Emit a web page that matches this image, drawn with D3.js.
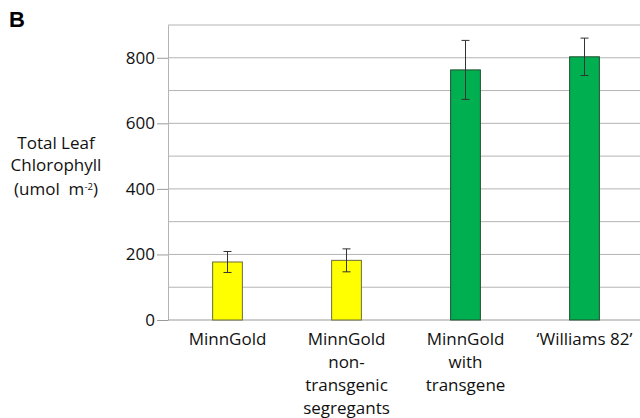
<!DOCTYPE html>
<html>
<head>
<meta charset="utf-8">
<script src="https://cdn.jsdelivr.net/npm/d3@7"></script>
<style>
  body { margin: 0; background: #fff; }
  svg { font-family: "Open Sans", Lato, sans-serif; }
</style>
</head>
<body>
<div id="chart"></div>
<script>
const categories = ["MinnGold", "MinnGold non-transgenic segregants", "MinnGold with transgene", "\u2018Williams 82\u2019"]
const labelLines = [["MinnGold"], ["MinnGold", "non-", "transgenic", "segregants"], ["MinnGold", "with", "transgene"], ["\u2018Williams 82\u2019"]]
const chlorophyll = [177, 182, 763, 803]
const errors = [32, 35, 90, 57]
const barColors = ["#ffff00", "#ffff00", "#00b050", "#00b050"]
const barStrokes = ["#6b6b3a", "#6b6b3a", "#1f4d2e", "#1f4d2e"]
const yTicks = [0, 200, 400, 600, 800]
const gridValues = [100, 200, 300, 400, 500, 600, 700, 800, 900]

const conf = { width: 640, height: 418, left: 168, right: 644, top: 25, bottom: 320 }

let svg = d3.select("#chart").append("svg")
    .attr("width", conf.width)
    .attr("height", conf.height)

let x = d3.scaleBand().domain(categories).range([conf.left, conf.right]).paddingInner(0.75).paddingOuter(0.375)
let y = d3.scaleLinear().domain([0, 900]).range([conf.bottom, conf.top])

// gridlines
svg.append("g").selectAll("line")
    .data(gridValues)
    .join("line")
    .attr("x1", conf.left).attr("x2", conf.right)
    .attr("y1", d => y(d)).attr("y2", d => y(d))
    .attr("stroke", "#b4b4b4").attr("stroke-width", 1)

// y axis
let yAxis = d3.axisLeft(y).tickValues(yTicks).tickSize(11).tickPadding(2).tickSizeOuter(0)
let yg = svg.append("g").attr("transform", "translate(" + conf.left + ",0)").call(yAxis)
yg.select(".domain").attr("stroke", "#b4b4b4")
yg.selectAll(".tick line").attr("stroke", "#9a9a9a")
yg.selectAll(".tick text").attr("font-size", 17).attr("fill", "#111").attr("font-family", "'Open Sans', sans-serif")

// x axis line
svg.append("line")
    .attr("x1", conf.left).attr("x2", conf.right)
    .attr("y1", y(0)).attr("y2", y(0))
    .attr("stroke", "#9a9a9a")

// bars
svg.append("g").selectAll("rect")
    .data(categories)
    .join("rect")
    .attr("x", d => x(d))
    .attr("width", x.bandwidth())
    .attr("y", (d, i) => y(chlorophyll[i]))
    .attr("height", (d, i) => y(0) - y(chlorophyll[i]))
    .attr("fill", (d, i) => barColors[i])
    .attr("stroke", (d, i) => barStrokes[i])
    .attr("stroke-width", 1)

// error bars
let eg = svg.append("g").attr("stroke", "#333").attr("stroke-width", 1)
categories.forEach((c, i) => {
    let cx = x(c) + x.bandwidth() / 2
    let hi = y(chlorophyll[i] + errors[i])
    let lo = y(chlorophyll[i] - errors[i])
    eg.append("line").attr("x1", cx).attr("x2", cx).attr("y1", hi).attr("y2", lo)
    eg.append("line").attr("x1", cx - 4).attr("x2", cx + 4).attr("y1", hi).attr("y2", hi)
    eg.append("line").attr("x1", cx - 4).attr("x2", cx + 4).attr("y1", lo).attr("y2", lo)
})

// x labels
categories.forEach((c, i) => {
    let t = svg.append("text")
        .attr("x", x(c) + x.bandwidth() / 2)
        .attr("y", 345)
        .attr("text-anchor", "middle")
        .attr("font-size", 17)
        .attr("fill", "#111")
    labelLines[i].forEach((line, j) => {
        t.append("tspan").attr("x", x(c) + x.bandwidth() / 2).attr("dy", j === 0 ? 0 : 23).text(line)
    })
})

// y title
let yt = svg.append("text").attr("text-anchor", "middle").attr("font-size", 17).attr("fill", "#111")
yt.append("tspan").attr("x", 56).attr("y", 149).text("Total Leaf")
yt.append("tspan").attr("x", 56).attr("y", 171).text("Chlorophyll")
yt.append("tspan").attr("x", 56).attr("y", 195).text("(umol\u00a0\u00a0m")
yt.append("tspan").attr("dy", -5.5).attr("font-size", 9.5).text("-2")
yt.append("tspan").attr("dy", 5.5).text(")")

// panel letter
svg.append("text").attr("x", 9).attr("y", 27).attr("font-size", 22).attr("font-weight", "bold")
    .attr("font-family", "Liberation Sans, Arial, sans-serif").attr("fill", "#000").text("B")
</script>
</body>
</html>
